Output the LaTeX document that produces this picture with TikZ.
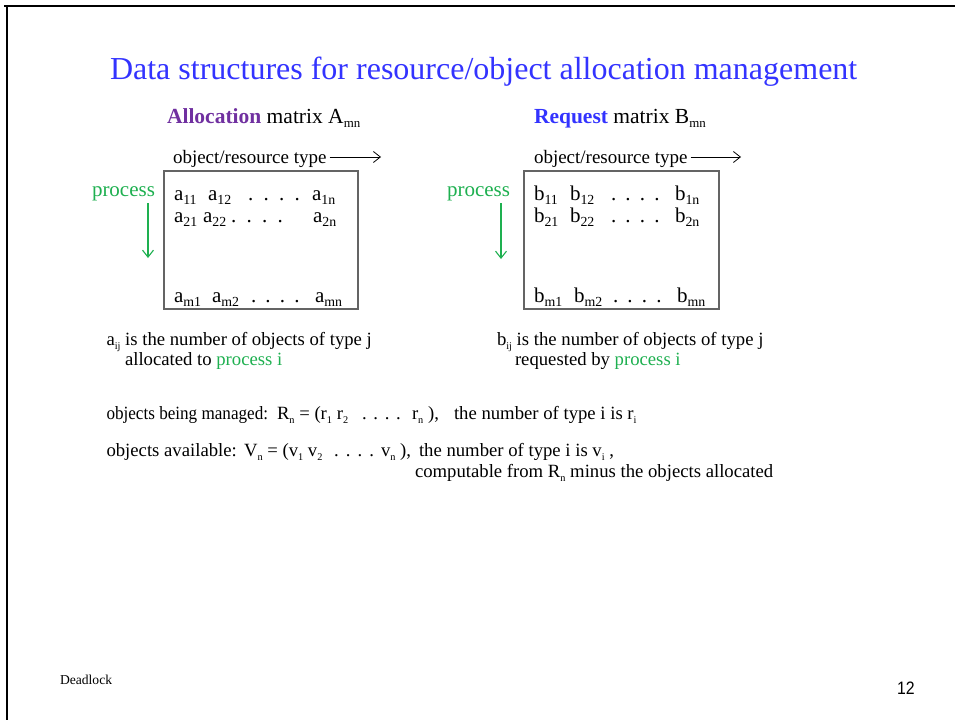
\documentclass[tikz,border=0pt]{standalone}
\usepackage{fontspec}
\usepackage{graphicx}
\setmainfont{Liberation Serif}
\newfontfamily\footsans{Liberation Sans}
\usetikzlibrary{arrows.meta}

\definecolor{titleblue}{RGB}{51,51,255}
\definecolor{allocpurple}{RGB}{112,48,160}
\definecolor{procgreen}{RGB}{30,176,80}
\definecolor{boxgray}{RGB}{100,100,100}

% lowered, shrunken index text
\newcommand\lowsub[2][0.62]{\raisebox{-0.22em}{\scalebox{#1}{#2}}}
% four spaced dots
\newcommand\spreaddots[1]{.\hspace{#1}.\hspace{#1}.\hspace{#1}.}

\begin{document}
\begin{tikzpicture}[x=1pt,y=-1pt,
  every node/.style={inner sep=0pt, outer sep=0pt, anchor=base west},
  titletext/.style={font=\fontsize{32}{36}\selectfont, text=titleblue},
  headtext/.style={font=\fontsize{21.5}{25}\selectfont},
  axistext/.style={font=\fontsize{19}{22}\selectfont},
  proctext/.style={font=\fontsize{21}{24}\selectfont, text=procgreen},
  enttext/.style={font=\fontsize{21}{24}\selectfont},
  bodytext/.style={font=\fontsize{18.7}{22}\selectfont},
  matbox/.style={draw=boxgray, line width=1.1pt, anchor=north west,
    minimum width=194pt, minimum height=138pt},
  typearrow/.style={-{Straight Barb[length=7pt,width=11pt]}, line width=0.8pt},
  procarrow/.style={-{Straight Barb[length=7pt,width=11pt]}, draw=procgreen, line width=1.1pt},
  slideframe/.style={line width=2.3pt}
]
\useasboundingbox (0,0) rectangle (955,720);
\fill[white] (0,0) rectangle (955,720);

% slide frame (top and left edges)
\draw[slideframe] (4,6.2) -- (955,6.2);
\draw[slideframe] (7,5) -- (7,720);

% title
\node[titletext] (title) at (110,79) {Data structures for resource/object allocation management};

% ---------- allocation matrix ----------
\node[headtext] (headA) at (167,123) {\textbf{\color{allocpurple}Allocation} matrix A\lowsub[0.6]{mn}};
\node[axistext] (typeA) at (173,163) {object/resource type};
\coordinate (typeAend) at (381,157);
\draw[typearrow] ([xshift=3pt]typeA.east |- typeAend) -- (typeAend);

\node[matbox] (boxA) at (164,171) {};

\node[proctext] (procA) at (92,196) {process};
\coordinate (procAend) at (148,258);
\draw[procarrow] ([yshift=-3pt]procAend |- procA.south) -- (procAend);

\node[enttext] (a11) at (174,200) {a\lowsub[0.66]{11}};
\node[enttext] (a12) at (208,200) {a\lowsub[0.66]{12}};
\node[enttext] (adots1) at (248,200) {\spreaddots{0.49em}};
\node[enttext] (a1n) at (312,200) {a\lowsub[0.66]{1n}};
\node[enttext] (a21) at (174,222) {a\lowsub[0.66]{21}};
\node[enttext] (a22) at (203,222) {a\lowsub[0.66]{22}};
\node[enttext] (adots2) at (231,222) {\spreaddots{0.49em}};
\node[enttext] (a2n) at (313,222) {a\lowsub[0.66]{2n}};
\node[enttext] (am1) at (174,302) {a\lowsub[0.66]{m1}};
\node[enttext] (am2) at (212,302) {a\lowsub[0.66]{m2}};
\node[enttext] (adots3) at (251,302) {\spreaddots{0.44em}};
\node[enttext] (amn) at (315,302) {a\lowsub[0.66]{mn}};

\node[bodytext] (descA1) at (106.5,345) {a\lowsub[0.55]{ij} is the number of objects of type j};
\node[bodytext] (descA2) at (125,365) {allocated to {\color{procgreen}process i}};

% ---------- request matrix ----------
\node[headtext] (headB) at (534,123) {\textbf{\color{titleblue}Request} matrix B\lowsub[0.6]{mn}};
\node[axistext] (typeB) at (534,163) {object/resource type};
\coordinate (typeBend) at (741,157);
\draw[typearrow] ([xshift=3pt]typeB.east |- typeBend) -- (typeBend);

\node[matbox, minimum width=195pt] (boxB) at (524,171) {};

\node[proctext] (procB) at (447,196) {process};
\coordinate (procBend) at (501,259);
\draw[procarrow] ([yshift=-3pt]procBend |- procB.south) -- (procBend);

\node[enttext] (b11) at (534,200) {b\lowsub[0.66]{11}};
\node[enttext] (b12) at (570,200) {b\lowsub[0.66]{12}};
\node[enttext] (bdots1) at (611,200) {\spreaddots{0.44em}};
\node[enttext] (b1n) at (675,200) {b\lowsub[0.66]{1n}};
\node[enttext] (b21) at (534,222) {b\lowsub[0.66]{21}};
\node[enttext] (b22) at (570,222) {b\lowsub[0.66]{22}};
\node[enttext] (bdots2) at (611,222) {\spreaddots{0.44em}};
\node[enttext] (b2n) at (675,222) {b\lowsub[0.66]{2n}};
\node[enttext] (bm1) at (534,302) {b\lowsub[0.66]{m1}};
\node[enttext] (bm2) at (574,302) {b\lowsub[0.66]{m2}};
\node[enttext] (bdots3) at (613,302) {\spreaddots{0.44em}};
\node[enttext] (bmn) at (677,302) {b\lowsub[0.66]{mn}};

\node[bodytext] (descB1) at (497,345) {b\lowsub[0.55]{ij} is the number of objects of type j};
\node[bodytext] (descB2) at (515,365) {requested by {\color{procgreen}process i}};

% ---------- resource vectors ----------
\node[bodytext] (manLabel) at (106.5,419) {\scalebox{0.915}[1]{objects being managed:}};
\node[bodytext] (manVec) at (277,419) {R\lowsub[0.55]{n} = (r\lowsub[0.55]{1} r\lowsub[0.55]{2}};
\node[bodytext] (manDots) at (362,419) {\spreaddots{0.36em}};
\node[bodytext] (manEnd) at (412,419) {r\lowsub[0.55]{n} ),};
\node[bodytext] (manNote) at (454,419) {the number of type i is r\lowsub[0.55]{i}};

\node[bodytext] (avLabel) at (106.5,456) {objects available:};
\node[bodytext] (avVec) at (244,456) {V\lowsub[0.55]{n} = (v\lowsub[0.55]{1} v\lowsub[0.55]{2}};
\node[bodytext] (avDots) at (334,456) {\spreaddots{0.38em}};
\node[bodytext] (avEnd) at (381,456) {v\lowsub[0.55]{n} ),};
\node[bodytext] (avNote) at (419,456) {the number of type i is v\lowsub[0.55]{i} ,};
\node[bodytext] (avNote2) at (415,477) {computable from R\lowsub[0.55]{n} minus the objects allocated};

% ---------- footer ----------
\node[font=\fontsize{13.6}{16}\selectfont] (footer) at (60,684) {Deadlock};
\node[font=\footsans\fontsize{18}{21}\selectfont] (pagenum) at (897,694) {\scalebox{0.88}[1]{12}};
\end{tikzpicture}
\end{document}
